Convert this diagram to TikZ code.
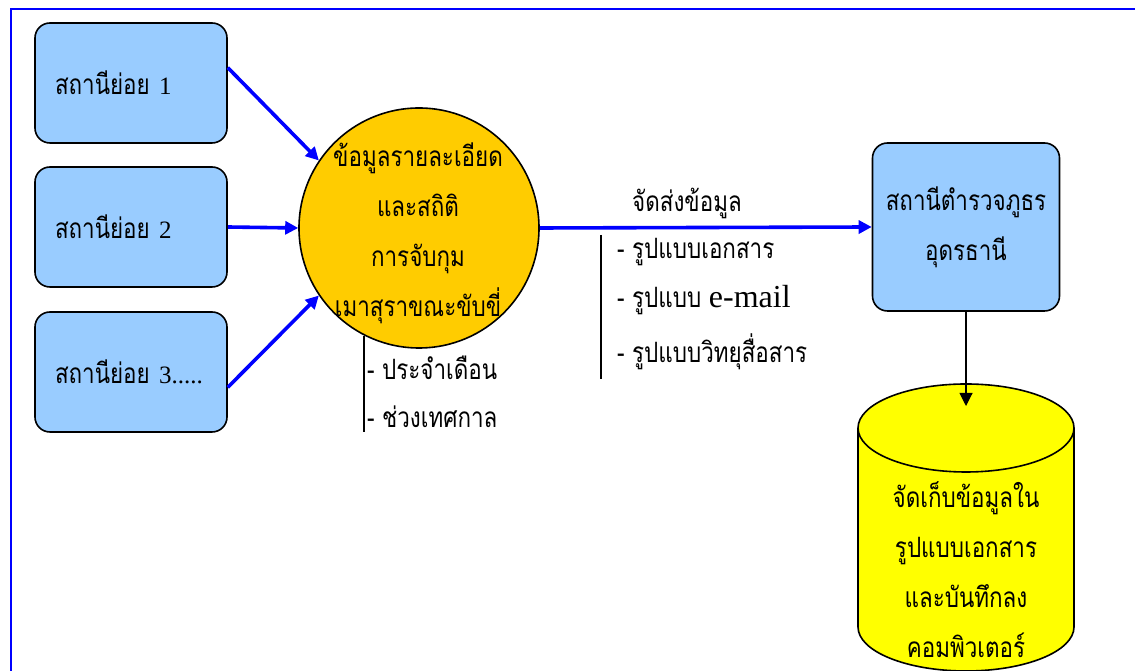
\documentclass[tikz,border=0pt]{standalone}
\usepackage{fontspec}
\setmainfont{Liberation Serif}
\newfontfamily\thaifont[Script=Thai,FakeStretch=0.8]{Loma}
\usetikzlibrary{arrows.meta,positioning}
\definecolor{boxblue}{HTML}{99CCFF}
\definecolor{hubgold}{HTML}{FFCC00}
\definecolor{dbyellow}{HTML}{FFFF00}
\newcommand{\thaisize}{\fontsize{28}{50}\selectfont}

\begin{document}
\begin{tikzpicture}[x=1pt,y=1pt,
    stn/.style={draw, rectangle, rounded corners=15pt, fill=boxblue, line width=1.6pt, minimum width=192pt, minimum height=120pt, inner sep=0pt, text width=152pt, align=left, font=\thaifont\thaisize},
    hub/.style={draw, circle, fill=hubgold, line width=1.6pt, minimum size=240pt, inner sep=-20pt, align=center, font=\thaifont\thaisize},
    txt/.style={anchor=west, inner sep=0pt, font=\thaifont\thaisize},
    blu/.style={draw=blue, line width=3.6pt, -{Triangle[length=13pt,width=13pt]}}]
    \useasboundingbox (0,0) rectangle (1135,671);
    % frame
    \draw[blue, line width=2pt] (11,-10) -- (11,662) -- (1145,662);

    % substations
    \node[stn] (stn1) at (131,588) {สถานีย่อย {\rmfamily\fontsize{25}{50}\selectfont 1}};
    \node[stn] (stn2) at (131,444) {สถานีย่อย {\rmfamily\fontsize{25}{50}\selectfont 2}};
    \node[stn] (stn3) at (131,299) {สถานีย่อย {\rmfamily\fontsize{25}{50}\selectfont 3.....}};

    % data hub
    \node[hub] (hub) at (419,443) {};
    \node[align=center, inner sep=0pt, font=\thaifont\thaisize] (hubtxt) at (418,438) {ข้อมูลรายละเอียด\\และสถิติ\\การจับกุม\\เมาสุราขณะขับขี่};
    \node[txt] (per1) at (367,303) {- ประจำเดือน};
    \node[txt] (per2) at (367,254) {- ช่วงเทศกาล};
    \coordinate (perend) at (365,239);
    \draw[line width=1.6pt] (hub.243) -- (hub.243 |- perend);

    \draw[blu] (stn1.9) -- (hub.146);
    \draw[blu] (stn2.east) -- (hub.west);
    \draw[blu] (stn3.351) -- (hub.214);

    % police station
    \node[stn, minimum width=187pt, minimum height=168pt, text width=, align=center] (pol) at (966,444) {สถานีตำรวจภูธร\\อุดรธานี};
    \draw[blu] (hub.east) -- (pol.west);
    \node[txt, anchor=center] (send) at (687,468) {จัดส่งข้อมูล};
    \node[txt] (way1) at (617,419) {- รูปแบบเอกสาร};
    \node[txt] (way2) at (617,371) {- รูปแบบ {\rmfamily\fontsize{32}{50}\selectfont e-mail}};
    \node[txt] (way3) at (617,319) {- รูปแบบวิทยุสื่อสาร};
    \coordinate (waytop) at (601,436);
    \coordinate (waybot) at (601,292);
    \draw[line width=1.6pt] (waytop) -- (waybot);

    % storage
    \filldraw[fill=dbyellow, line width=1.6pt] (966,44) ellipse [x radius=108, y radius=44];
    \fill[dbyellow] (858,44) rectangle (1074,243);
    \draw[line width=1.6pt] (858,44) -- (858,243) (1074,44) -- (1074,243);
    \filldraw[fill=dbyellow, line width=1.6pt] (966,243) ellipse [x radius=108, y radius=44];
    \node[align=center, inner sep=0pt, font=\thaifont\thaisize] (db) at (966,101) {จัดเก็บข้อมูลใน\\รูปแบบเอกสาร\\และบันทึกลง\\คอมพิวเตอร์};
    \coordinate (dbtop) at (964,265);
    \draw[line width=1.1pt, -{Triangle[length=13pt,width=13pt]}] (pol.south) -- (pol.south |- dbtop);
\end{tikzpicture}
\end{document}
